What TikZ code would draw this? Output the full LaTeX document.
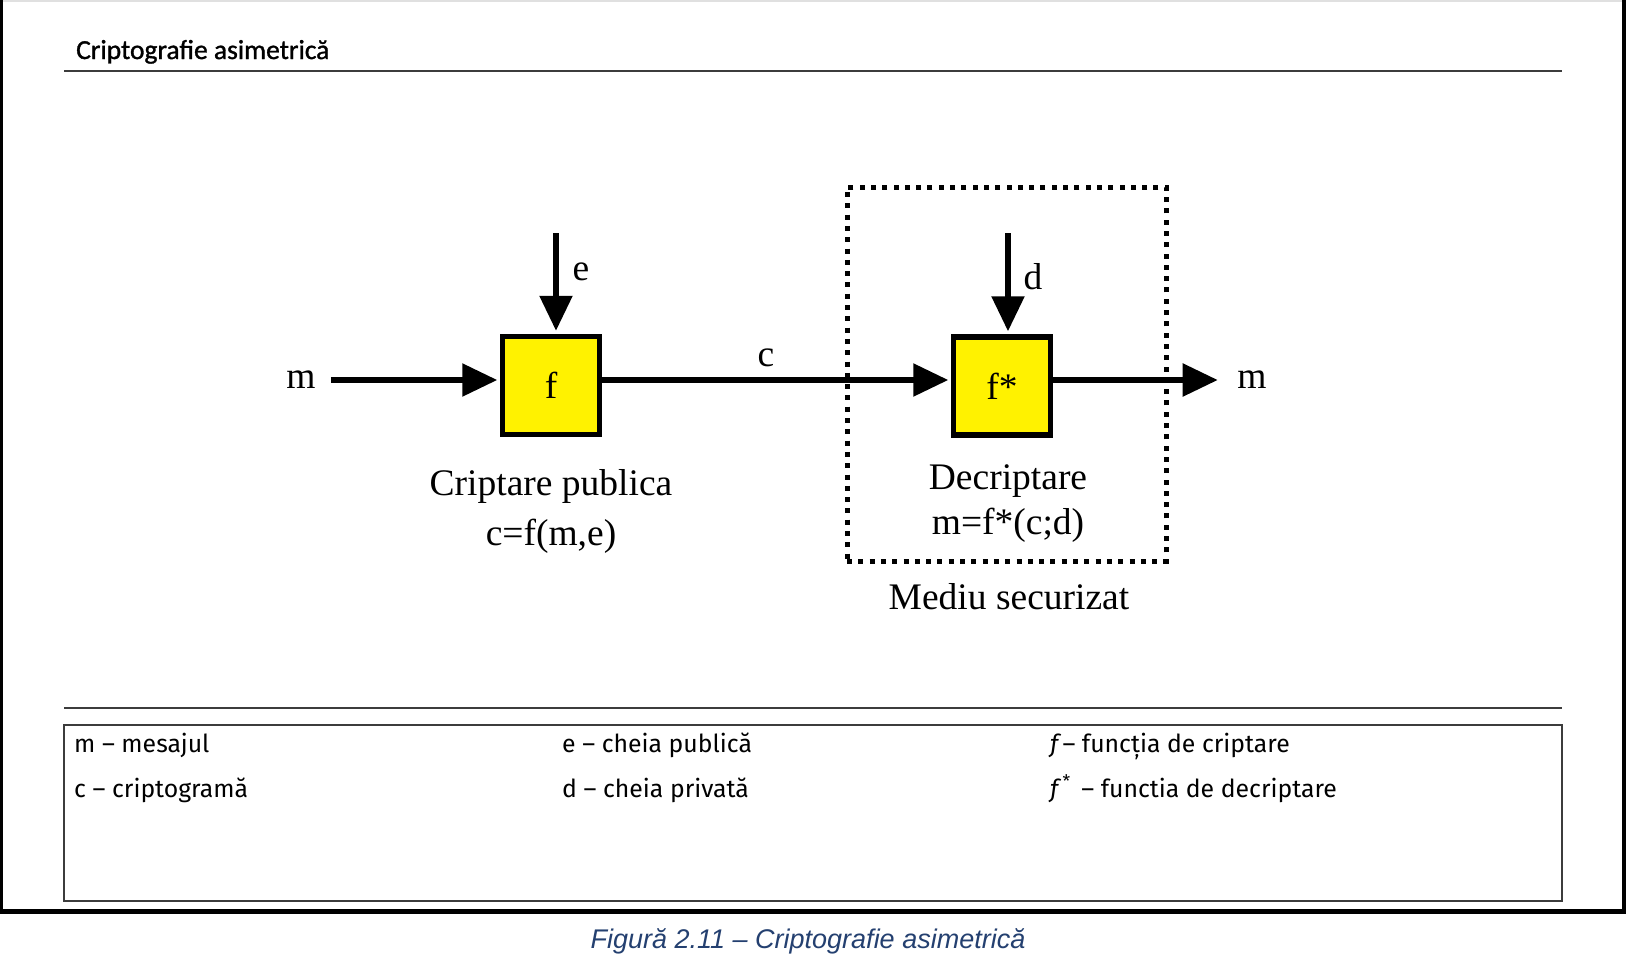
\documentclass[tikz,border=0pt]{standalone}
\usepackage{fontspec}
\setmainfont{Liberation Serif}
\newfontfamily\legendfont{Fira Sans}
\newfontfamily\titlefont[FakeBold=1.2]{Carlito}
\newfontfamily\captionfont{Liberation Sans}
\usetikzlibrary{arrows.meta,positioning}
\definecolor{boxyellow}{RGB}{255,242,0}
\definecolor{captionblue}{RGB}{36,64,112}
\definecolor{rulegray}{RGB}{60,60,60}

\begin{document}
\begin{tikzpicture}[x=1pt,y=-1pt]
\tikzstyle{flowArrow} = [line width=5.5pt, -{Triangle[length=35pt,width=32pt]}]
\tikzstyle{funcBox} = [draw, line width=5.5pt, fill=boxyellow, minimum width=97pt, minimum height=98pt, inner sep=0pt, font=\fontsize{37.5}{40}\selectfont]
\tikzstyle{serifText} = [inner sep=0pt, font=\fontsize{37.5}{40}\selectfont]
\tikzstyle{legendText} = [anchor=base west, inner sep=0pt, font=\legendfont\fontsize{24.8}{28}\selectfont]

\useasboundingbox (0,0) rectangle (1626,962);
\fill[white] (0,0) rectangle (1626,962);

% page frame
\fill[black!12] (0,0) rectangle (1626,1.5);
\fill[black] (0,0) rectangle (3,914);
\fill[black] (1622,0) rectangle (1626,914);
\fill[black] (0,909) rectangle (1626,914);

\node[anchor=base west, inner sep=0pt, font=\titlefont\fontsize{27.5}{30}\selectfont] at (76,59) (title) {Criptografie asimetrică};
\draw[rulegray, line width=2pt] (64,71) -- (1562,71);

\node[funcBox] at (551,385.5) (f) {f};
\node[funcBox] at (1002,386) (fstar) {f*};
\node[draw, line width=5pt, dash pattern=on 5pt off 6.3pt, minimum width=319pt, minimum height=374pt] at (1006.5,374) (secure) {};

\node[serifText] at (301,380) (mIn) {m};
\node[serifText] at (1252,380) (mOut) {m};
\node[serifText] at (581,272) (eLbl) {e};
\node[serifText] at (1033,277) (dLbl) {d};
\node[serifText] at (766,358) (cLbl) {c};
\coordinate (eTop) at (556,233);
\coordinate (dTop) at (1008,233);

\draw[flowArrow, shorten >=2.5pt] ([xshift=15pt]mIn.east) -- (mIn.east -| f.west);
\draw[flowArrow, shorten >=2.5pt] (f.east |- mIn) -- (fstar.west |- mIn);
\draw[flowArrow] (fstar.east |- mOut) -- ([xshift=-19.5pt]mOut.west);
\draw[flowArrow, shorten >=3pt] (eTop) -- (eTop |- f.north);
\draw[flowArrow, shorten >=3pt] (dTop) -- (dTop |- fstar.north);

\node[serifText] at (551,486) (encName) {Criptare publica};
\node[serifText] at (551,536) (encEq) {c=f(m,e)};
\node[serifText] at (1008,481) (decName) {Decriptare};
\node[serifText] at (1008,525) (decEq) {m=f*(c;d)};
\node[serifText] at (1009,597) (secLbl) {Mediu securizat};

% legend
\draw[rulegray, line width=2pt] (64,708) -- (1562,708);
\node[draw=rulegray, line width=1.5pt, minimum width=1498pt, minimum height=176pt, anchor=north west, inner sep=0pt] at (63,724) (legend) {};
\node[legendText] at (74,752) (lgM) {m – mesajul};
\node[legendText] at (74,797) (lgC) {c – criptogramă};
\node[legendText] at (562,752) (lgE) {e – cheia publică};
\node[legendText] at (562,797) (lgD) {d – cheia privată};
\node[legendText] at (1050,752) (lgF) {\itshape f\upshape\,– funcția de criptare};
\node[legendText] at (1050,797) (lgFs) {\itshape f\upshape\,\textsuperscript{*}\, – functia de decriptare};

\node[anchor=base, inner sep=0pt, font=\captionfont\itshape\fontsize{27}{30}\selectfont, text=captionblue] at (808,948) (caption) {Figură 2.11 – Criptografie asimetrică};
\end{tikzpicture}
\end{document}
